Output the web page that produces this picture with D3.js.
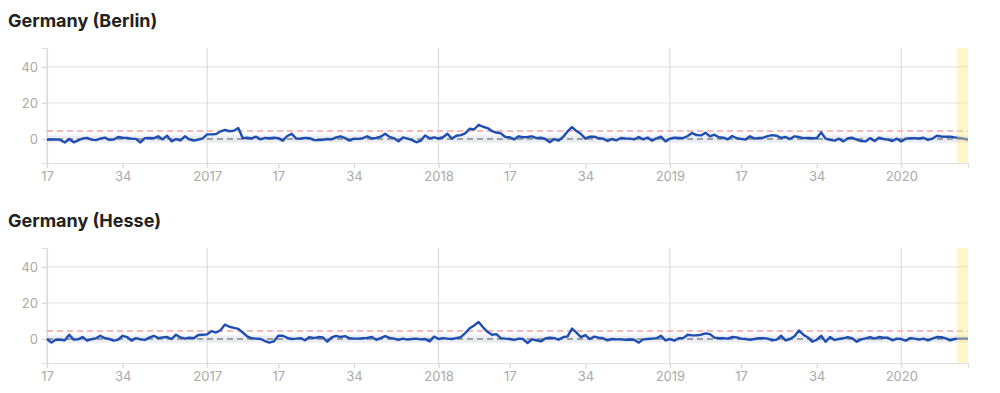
<!DOCTYPE html>
<html>
<head>
<meta charset="utf-8">
<script src="https://cdn.jsdelivr.net/npm/d3@7"></script>
<style>
  body { margin: 0; background: #fff; font-family: Inter, "Open Sans", sans-serif; }
  .title { font-weight: 700; font-size: 18px; fill: #222; }
  .tick text { fill: #aaa; font-size: 13px; font-family: Inter, sans-serif; }
</style>
</head>
<body>
<div id="chart"></div>
<script>
// weekly series, first point = 2016 week 17
var startYear = 2016, startWeek = 17;
var weeksInYear = {2016: 52, 2017: 52, 2018: 52, 2019: 52, 2020: 53};

var regions = ["Germany (Berlin)", "Germany (Hesse)"];

var berlin = [
  -0.4,-0.3,-0.2,-0.5,-1.9,0.0,-1.8,-0.8,0.3,0.6,-0.3,-0.6,0.2,0.8,-0.5,-0.3,1.1,0.7,0.6,0.2,
  0.1,-1.9,0.5,0.6,0.4,1.5,-0.2,1.8,-1.3,0.0,-0.8,1.5,-0.2,-0.8,-0.3,0.4,2.6,2.6,2.8,4.2,
  5.0,4.3,4.6,6.1,0.4,0.7,0.3,1.3,-0.2,0.6,0.4,0.7,0.5,-0.9,1.7,2.9,0.2,0.3,0.6,0.5,
  -0.5,-0.6,-0.4,0.0,-0.2,0.9,1.5,0.5,-0.9,0.2,0.1,0.5,1.5,0.3,0.6,1.3,2.9,1.2,0.4,-1.3,
  0.9,0.2,-0.5,-1.8,-0.9,2.0,0.4,0.9,0.3,1.0,2.9,0.2,1.8,2.2,3.1,5.7,5.3,7.9,6.8,6.1,
  4.4,3.6,3.1,1.1,1.0,-0.2,1.5,1.0,1.1,1.5,0.5,0.7,0.0,-1.8,0.0,-0.9,1.2,4.2,6.6,4.4,
  2.8,0.2,1.3,1.3,0.4,0.2,-1.1,0.0,-0.7,0.6,0.3,0.2,-0.2,1.1,-0.2,0.8,-0.9,0.4,1.3,-1.3,
  0.2,0.7,0.6,0.5,1.7,3.3,2.2,2.0,3.5,1.5,2.4,1.0,0.8,-0.2,1.7,0.4,0.1,-0.3,1.5,0.2,
  0.6,0.8,1.6,2.2,1.8,0.6,1.1,0.0,1.5,1.1,0.5,0.6,0.4,0.4,3.7,0.2,-0.5,-0.9,0.2,-1.3,
  0.4,0.7,-0.3,-1.1,-1.3,0.5,-1.1,0.7,0.0,-0.3,-1.1,0.2,-1.3,0.2,0.5,0.4,0.3,0.7,-0.5,0.2,
  1.8,1.4,1.3,1.3,0.9,0.6,0.2,-0.4
];

var hesse = [
  0.0,-2.0,-0.3,-0.5,-0.7,2.4,-0.3,-0.2,1.1,-0.9,-0.1,0.4,1.8,0.4,0.0,-0.9,-0.3,1.8,1.1,-0.9,
  0.5,-0.2,-0.5,0.8,1.8,0.5,0.9,1.1,0.0,2.4,0.9,0.2,0.8,0.4,2.2,2.4,2.6,4.4,3.6,4.9,
  8.0,6.8,6.2,5.6,3.6,1.5,0.4,0.2,0.0,-1.1,-2.0,-1.3,1.8,1.8,0.6,0.0,0.2,0.5,-0.7,1.1,
  0.5,1.1,0.9,-1.5,0.9,1.8,1.1,1.6,0.4,0.2,0.2,0.4,0.6,1.1,-0.4,0.5,1.6,0.6,0.2,-0.5,
  0.2,-0.3,0.0,0.2,-0.2,0.0,-1.3,1.3,0.0,0.5,0.2,0.0,0.5,1.0,3.3,6.0,7.5,9.5,6.5,4.0,
  2.4,2.7,0.5,0.2,0.0,-0.5,0.2,0.0,-2.2,-0.2,-0.7,-1.3,0.3,0.7,0.5,-0.3,1.0,1.5,5.8,3.6,
  1.1,2.2,0.0,1.3,0.8,0.4,-0.7,0.0,-0.2,-0.2,-0.4,-0.3,-0.4,-2.0,-0.2,0.0,0.2,0.4,1.8,-0.7,
  0.0,-0.9,0.4,0.5,2.4,2.0,2.0,2.4,3.1,2.7,0.8,0.4,0.4,0.2,1.1,0.9,0.2,0.0,-0.5,0.0,
  0.4,0.4,0.2,-0.7,-0.3,1.8,-0.7,0.0,1.5,4.7,2.4,0.9,-1.5,-0.4,1.8,-1.5,1.1,-0.5,0.0,0.4,
  1.1,0.4,-1.5,-0.2,0.4,1.1,0.2,1.1,0.7,0.7,-0.7,0.2,0.0,-0.9,0.5,0.2,-0.3,0.2,-0.7,0.2,
  1.1,1.0,0.4,-0.7,0.0,0.2,0.2,0.2
];

var seriesList = [berlin, hesse];

var yTicks = [0, 20, 40];
var tickDates = [[2016,17],[2016,34],[2017,1],[2017,17],[2017,34],[2018,1],[2018,17],[2018,34],[2019,1],[2019,17],[2019,34],[2020,1]];
var yearStarts = [[2016,17],[2017,1],[2018,1],[2019,1],[2020,1]];
var threshold = 4.5;
var baselineBand = [-2, 2];
var delayedFrom = [2020,14]; // last weeks, still incomplete

function weekIndex(d) {
  var idx = 0;
  for (var y = startYear; y < d[0]; y++) idx += weeksInYear[y];
  return idx + d[1] - startWeek;
}

var width = 1000, height = 393;
var panelH = 200;
var x = d3.scaleLinear().domain([0, berlin.length - 1]).range([47, 968]);
var y = d3.scaleLinear().domain([-13.3, 50.5]).range([163, 48]);

var svg = d3.select("#chart").append("svg")
    .attr("width", width)
    .attr("height", height);

seriesList.forEach(function(data, p) {
  var g = svg.append("g").attr("transform", "translate(0," + (p * panelH) + ")");

  g.append("text").attr("class", "title")
      .attr("x", 8).attr("y", 27)
      .text(regions[p]);

  // horizontal grid
  g.selectAll(".hgrid").data(yTicks).enter().append("line")
      .attr("x1", x.range()[0]).attr("x2", x.range()[1])
      .attr("y1", function(d) { return y(d); }).attr("y2", function(d) { return y(d); })
      .attr("stroke", "#e3e3e3").attr("stroke-width", 1.2);

  // baseline band
  g.append("rect")
      .attr("x", x.range()[0]).attr("width", x.range()[1] - x.range()[0])
      .attr("y", y(baselineBand[1])).attr("height", y(baselineBand[0]) - y(baselineBand[1]))
      .attr("fill", "#e9edf3");

  // year lines
  g.selectAll(".vgrid").data(yearStarts).enter().append("line")
      .attr("x1", function(d) { return x(weekIndex(d)); })
      .attr("x2", function(d) { return x(weekIndex(d)); })
      .attr("y1", y.range()[1]).attr("y2", y.range()[0])
      .attr("stroke", "#dcdcdc").attr("stroke-width", 1.2);

  // bottom axis
  var xAxis = g.append("g")
      .attr("transform", "translate(0," + y.range()[0] + ")")
      .call(d3.axisBottom(x)
        .tickValues(tickDates.map(weekIndex))
        .tickFormat(function(d, i) { return tickDates[i][1] === 1 ? tickDates[i][0] : tickDates[i][1]; })
        .tickSize(5).tickPadding(4));
  xAxis.select(".domain").attr("stroke", "#e0e0e0").attr("stroke-width", 1.2);
  xAxis.selectAll(".tick line").attr("stroke", "#d5d5d5").attr("stroke-width", 1.2);

  // left axis
  var yAxis = g.append("g")
      .attr("transform", "translate(" + x.range()[0] + ",0)")
      .call(d3.axisLeft(y).tickValues(yTicks).tickSize(5).tickPadding(4));
  yAxis.select(".domain").attr("stroke", "#dcdcdc").attr("stroke-width", 1.2);
  yAxis.selectAll(".tick line").attr("stroke", "#d5d5d5").attr("stroke-width", 1.2);

  // zero and threshold
  g.append("line")
      .attr("x1", x.range()[0]).attr("x2", x.range()[1])
      .attr("y1", y(threshold)).attr("y2", y(threshold))
      .attr("stroke", "#f4a3a3").attr("stroke-width", 1.5).attr("stroke-dasharray", "6,4");
  g.append("line")
      .attr("x1", x.range()[0]).attr("x2", x.range()[1])
      .attr("y1", y(0)).attr("y2", y(0))
      .attr("stroke", "#888").attr("stroke-width", 1.6).attr("stroke-dasharray", "6,4");

  var line = d3.line()
      .x(function(d, i) { return x(i); })
      .y(function(d) { return y(d); });

  g.append("path")
      .datum(data)
      .attr("d", line)
      .attr("fill", "none")
      .attr("stroke", "#1f4eb2")
      .attr("stroke-width", 2.4)
      .attr("stroke-linejoin", "round");

  // incomplete weeks
  var bx = x(weekIndex(delayedFrom) - 0.5);
  g.append("rect")
      .attr("x", bx).attr("width", x.range()[1] - bx)
      .attr("y", y.range()[1]).attr("height", y.range()[0] - y.range()[1])
      .attr("fill", "#ffe97a").attr("opacity", 0.4);
});
</script>
</body>
</html>
